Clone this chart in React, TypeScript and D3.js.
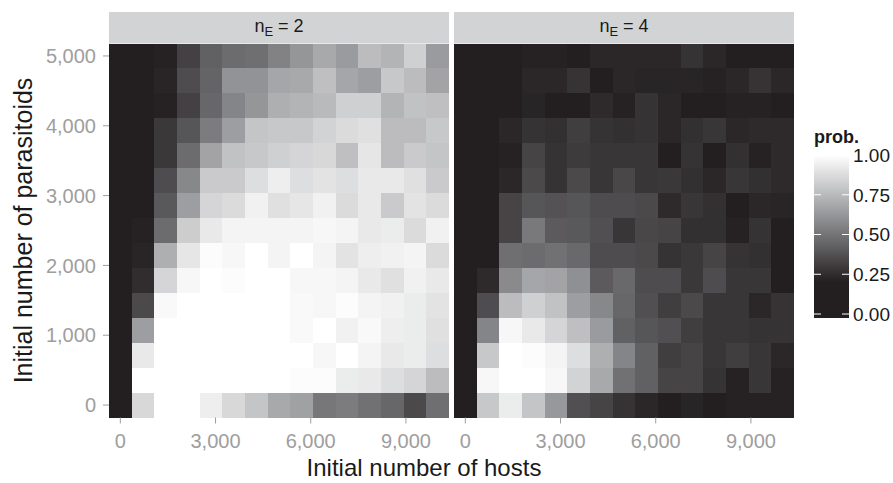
import React from "react";
import * as d3 from "d3";

// Initial number of hosts (x categories, cell centres)
const hosts = [0, 714, 1429, 2143, 2857, 3571, 4286, 5000, 5714, 6429, 7143, 7857, 8571, 9286, 10000];
// Initial number of parasitoids (y categories, cell centres)
const parasitoids = [0, 357, 714, 1071, 1429, 1786, 2143, 2500, 2857, 3214, 3571, 3929, 4286, 4643, 5000];

const facetLabels = ["2", "4"];
const xTicks = [0, 3000, 6000, 9000];
const yTicks = [0, 1000, 2000, 3000, 4000, 5000];
const legendTicks = [0, 0.25, 0.5, 0.75, 1];

// prob. for n_E = 2 ; each row = one parasitoid level (first row = 0), columns = hosts
const probNE2 = [
  [0, 0.86, 1, 1, 0.94, 0.86, 0.79, 0.69, 0.66, 0.51, 0.53, 0.49, 0.45, 0.35, 0.48],
  [0, 1, 1, 1, 1, 1, 1, 1, 0.99, 0.99, 0.93, 0.92, 0.88, 0.85, 0.76],
  [0, 0.92, 1, 1, 1, 1, 1, 1, 1, 0.97, 1, 0.96, 0.92, 0.93, 0.88],
  [0, 0.65, 1, 1, 1, 1, 1, 1, 0.98, 1, 0.95, 0.98, 0.94, 0.93, 0.89],
  [0, 0.35, 0.98, 1, 1, 1, 1, 1, 0.98, 0.97, 0.99, 0.96, 0.95, 0.93, 0.9],
  [0, 0.25, 0.85, 0.97, 1, 0.99, 1, 1, 0.97, 0.97, 0.96, 0.92, 0.89, 0.95, 0.92],
  [0, 0.22, 0.71, 0.91, 0.99, 0.97, 1, 0.96, 1, 0.96, 0.9, 0.94, 0.95, 0.96, 0.87],
  [0, 0.21, 0.47, 0.82, 0.92, 0.96, 0.96, 0.96, 0.96, 0.97, 0.96, 0.92, 0.93, 0.87, 0.95],
  [0, 0, 0.4, 0.65, 0.85, 0.87, 0.95, 0.89, 0.91, 0.95, 0.87, 0.92, 0.81, 0.9, 0.87],
  [0, 0, 0.36, 0.57, 0.81, 0.81, 0.88, 0.94, 0.88, 0.9, 0.88, 0.92, 0.92, 0.89, 0.81],
  [0, 0, 0.29, 0.47, 0.67, 0.78, 0.8, 0.83, 0.85, 0.86, 0.77, 0.91, 0.76, 0.81, 0.79],
  [0, 0, 0.29, 0.39, 0.53, 0.65, 0.79, 0.8, 0.8, 0.84, 0.87, 0.89, 0.76, 0.76, 0.8],
  [0, 0, 0.21, 0.32, 0.45, 0.56, 0.62, 0.71, 0.73, 0.75, 0.83, 0.83, 0.73, 0.78, 0.77],
  [0, 0, 0.22, 0.36, 0.44, 0.61, 0.61, 0.68, 0.69, 0.77, 0.68, 0.65, 0.8, 0.76, 0.67],
  [0, 0, 0.21, 0.32, 0.43, 0.47, 0.48, 0.55, 0.62, 0.69, 0.64, 0.76, 0.73, 0.83, 0.64],
];

// prob. for n_E = 4
const probNE4 = [
  [0, 0.8, 0.93, 0.79, 0.63, 0.37, 0.33, 0.27, 0.23, 0.2, 0.22, 0.2, 0.21, 0.21, 0.21],
  [0, 0.97, 1, 1, 0.97, 0.84, 0.69, 0.49, 0.43, 0.33, 0.33, 0.27, 0.21, 0.28, 0.21],
  [0, 0.8, 1, 0.99, 0.96, 0.88, 0.71, 0.56, 0.43, 0.31, 0.33, 0.28, 0.31, 0.28, 0.23],
  [0, 0.56, 0.97, 0.92, 0.85, 0.77, 0.64, 0.43, 0.39, 0.37, 0.31, 0.28, 0.28, 0.27, 0.27],
  [0, 0.36, 0.76, 0.83, 0.78, 0.65, 0.57, 0.45, 0.37, 0.31, 0.35, 0.28, 0.28, 0.23, 0.27],
  [0, 0.24, 0.58, 0.68, 0.67, 0.6, 0.41, 0.46, 0.36, 0.36, 0.29, 0.36, 0.28, 0.28, 0.2],
  [0, 0, 0.48, 0.47, 0.49, 0.46, 0.36, 0.36, 0.35, 0.27, 0.29, 0.33, 0.27, 0.26, 0.2],
  [0, 0, 0.33, 0.52, 0.41, 0.4, 0.37, 0.28, 0.34, 0.33, 0.26, 0.26, 0.21, 0.27, 0.2],
  [0, 0, 0.33, 0.39, 0.38, 0.39, 0.36, 0.36, 0.35, 0.24, 0.28, 0.26, 0.2, 0.23, 0.22],
  [0, 0, 0.23, 0.35, 0.27, 0.35, 0.28, 0.34, 0.28, 0.29, 0.26, 0.23, 0.28, 0.26, 0.24],
  [0, 0, 0.21, 0.33, 0.27, 0.3, 0.28, 0.28, 0.28, 0.2, 0.27, 0.1, 0.26, 0.21, 0.24],
  [0, 0, 0.23, 0.27, 0.26, 0.31, 0.27, 0.26, 0.27, 0.23, 0.26, 0.28, 0.23, 0.24, 0.24],
  [0, 0, 0, 0.22, 0.2, 0.2, 0.24, 0.21, 0.27, 0.23, 0.2, 0.2, 0.21, 0.21, 0.2],
  [0, 0, 0, 0.23, 0.23, 0.27, 0.1, 0.23, 0.22, 0.22, 0.22, 0.21, 0.23, 0.27, 0.23],
  [0, 0, 0, 0.21, 0.21, 0.2, 0.23, 0.23, 0.23, 0.23, 0.27, 0.23, 0.2, 0.2, 0.2],
];

const FONT = "'Liberation Sans', Arial, Helvetica, sans-serif";

export default function App() {
  const W = 893;
  const H = 483;
  const top = 43.5;
  const bottom = 417.5;
  const hx = 357.14;
  const hy = 178.57;

  const panels = [
    { x0: 109, x1: 449, label: facetLabels[0], data: probNE2 },
    { x0: 454, x1: 794, label: facetLabels[1], data: probNE4 },
  ];

  const y = d3.scaleLinear().domain([-hy, 5000 + hy]).range([bottom, top]);
  const color = d3
    .scaleLinear<string>()
    .domain([0, 0.2, 0.6, 1])
    .range(["#231f20", "#231f20", "#8f9093", "#ffffff"])
    .clamp(true);

  const fmt = d3.format(",");
  const tickColor = "#9e9e9e";

  // legend
  const ly = d3.scaleLinear().domain([0, 1]).range([314, 155]);
  const barTop = 151;
  const barBottom = 318;
  const barX0 = 814;
  const barX1 = 849;
  const stops = d3.range(0, 1.0001, 0.05);

  return (
    <svg
      width={W}
      height={H}
      style={{ position: "absolute", left: 0, top: 0, background: "#fff" }}
      fontFamily={FONT}
    >
      <defs>
        <linearGradient id="legGrad" x1="0" y1={barBottom} x2="0" y2={barTop} gradientUnits="userSpaceOnUse">
          {stops.map((s) => (
            <stop key={s} offset={(ly(s) - barBottom) / (barTop - barBottom)} stopColor={color(s)} />
          ))}
        </linearGradient>
      </defs>
      <rect x={0} y={0} width={W} height={H} fill="#fff" />

      {panels.map((p, pi) => {
        const x = d3.scaleLinear().domain([-hx, 10000 + hx]).range([p.x0, p.x1]);
        return (
          <g key={pi}>
            {/* strip */}
            <rect x={p.x0} y={12} width={p.x1 - p.x0} height={top - 12} fill="#d2d3d5" />
            <text x={(p.x0 + p.x1) / 2} y={32} textAnchor="middle" fontSize={18} fill="#1a1a1a">
              <tspan>n</tspan>
              <tspan dy={4} fontSize={13}>E</tspan>
              <tspan dy={-4}> = {p.label}</tspan>
            </text>
            {/* cells */}
            <g shapeRendering="crispEdges">
              {p.data.map((row, ri) =>
                row.map((v, ci) => {
                  const xa = Math.round(x(hosts[ci] - hx));
                  const xb = Math.round(x(hosts[ci] + hx));
                  const ya = Math.round(y(parasitoids[ri] + hy));
                  const yb = Math.round(y(parasitoids[ri] - hy));
                  return (
                    <rect key={`${ri}-${ci}`} x={xa} y={ya} width={xb - xa} height={yb - ya} fill={color(v)} />
                  );
                })
              )}
            </g>
            {/* x axis */}
            {xTicks.map((t) => (
              <g key={t}>
                <line x1={x(t)} x2={x(t)} y1={bottom} y2={bottom + 6} stroke={tickColor} strokeWidth={1} />
                <text x={x(t)} y={448} textAnchor="middle" fontSize={20} fill={tickColor}>
                  {fmt(t)}
                </text>
              </g>
            ))}
          </g>
        );
      })}

      {/* y axis */}
      {yTicks.map((t) => (
        <g key={t}>
          <line x1={103} x2={109} y1={y(t)} y2={y(t)} stroke={tickColor} strokeWidth={1} />
          <text x={96} y={y(t)} dy="0.36em" textAnchor="end" fontSize={20} fill={tickColor}>
            {fmt(t)}
          </text>
        </g>
      ))}

      {/* axis titles */}
      <text x={424} y={476} textAnchor="middle" fontSize={24} fill="#1a1a1a">
        Initial number of hosts
      </text>
      <text transform={`translate(32, ${(top + bottom) / 2}) rotate(-90)`} textAnchor="middle" fontSize={25} fill="#1a1a1a">
        Initial number of parasitoids
      </text>

      {/* legend */}
      <text x={814} y={143} fontSize={18} fontWeight="bold" fill="#1a1a1a">
        prob.
      </text>
      <rect x={barX0} y={barTop} width={barX1 - barX0} height={barBottom - barTop} fill="url(#legGrad)" />
      {legendTicks.map((t) => (
        <g key={t}>
          <line x1={barX0} x2={barX0 + 7} y1={ly(t)} y2={ly(t)} stroke="#fff" strokeWidth={1} />
          <line x1={barX1 - 7} x2={barX1} y1={ly(t)} y2={ly(t)} stroke="#fff" strokeWidth={1} />
          <text x={853} y={ly(t)} dy="0.36em" fontSize={19} fill="#1a1a1a">
            {d3.format(".2f")(t)}
          </text>
        </g>
      ))}
    </svg>
  );
}
